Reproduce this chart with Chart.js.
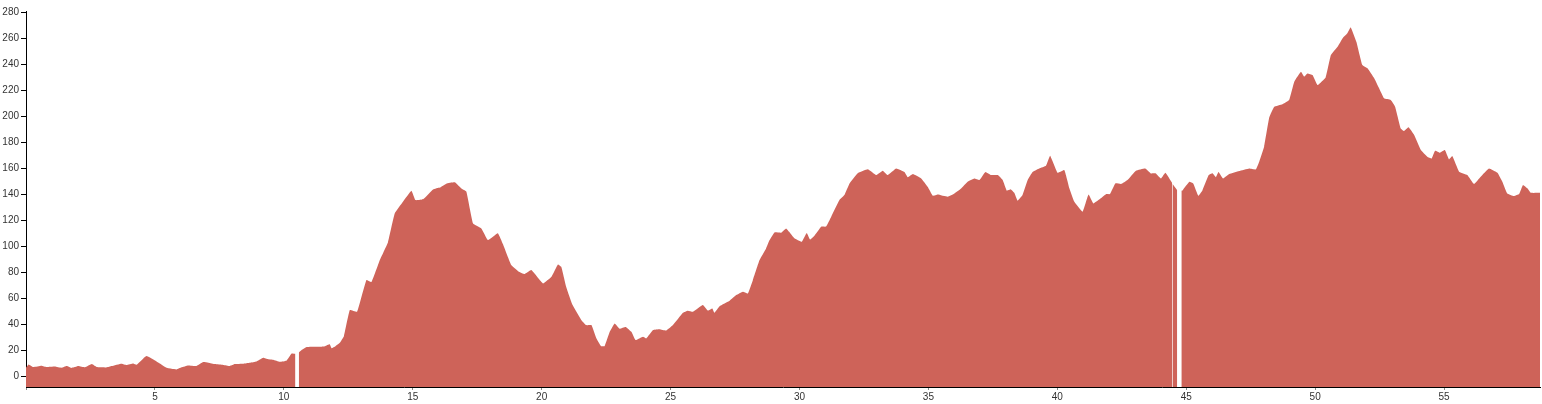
<!DOCTYPE html>
<html>
<head>
<meta charset="utf-8">
<script src="https://cdn.jsdelivr.net/npm/chart.js@4/dist/chart.umd.min.js"></script>
<style>
html,body{margin:0;padding:0;background:#fff;}
#wrap{width:1542px;height:404px;position:relative;}
</style>
</head>
<body>
<div id="wrap"><canvas id="c" width="1542" height="404"></canvas></div>
<script>
// distance along the route (km)
const distanceKm = [
0,0.1,0.28,0.6,0.8,1.12,1.38,1.58,1.77,2.03,2.29,2.55,2.74,3.13,3.32,3.71,3.9,4.16,4.29,4.55,4.68,4.94,5.19,5.45,5.65,5.84,6.03,6.29,6.61,6.87,7.07,7.33,7.65,7.91,8.1,8.42,8.68,8.94,9.2,9.39,9.59,9.84,10.1,10.3,10.45,10.5,10.58,10.69,10.88,11.07,11.4,11.6,11.78,11.85,12.0,12.17,12.33,12.56,12.84,13.2,13.4,13.72,14.04,14.3,14.62,14.95,15.1,15.4,15.79,16.05,16.3,16.63,16.9,17.08,17.34,17.66,17.92,18.3,18.5,18.82,19.1,19.34,19.6,20.05,20.38,20.63,20.76,20.95,21.2,21.54,21.73,21.93,22.12,22.3,22.44,22.64,22.83,23.02,23.26,23.48,23.64,23.93,24.06,24.32,24.57,24.83,25.09,25.48,25.67,25.87,26.25,26.45,26.62,26.7,26.9,27.29,27.55,27.8,28.0,28.19,28.45,28.7,28.84,29.03,29.29,29.48,29.6,29.8,30.09,30.28,30.41,30.58,30.84,31.03,31.23,31.55,31.74,31.94,32.26,32.65,32.97,33.23,33.42,33.75,34.07,34.2,34.4,34.72,34.97,35.17,35.36,35.75,36.01,36.27,36.52,36.78,36.98,37.21,37.43,37.69,37.88,38.04,38.2,38.33,38.46,38.65,38.85,39.04,39.3,39.56,39.72,40.01,40.27,40.47,40.66,40.98,41.21,41.4,41.69,41.9,42.04,42.25,42.47,42.72,43.05,43.41,43.63,43.82,44.02,44.19,44.455,44.46,44.465,44.65,44.73,44.81,44.86,45.12,45.27,45.47,45.63,45.87,46.02,46.15,46.25,46.43,46.67,47.05,47.44,47.7,47.83,48.02,48.22,48.41,48.73,48.99,49.19,49.45,49.57,49.7,49.9,50.09,50.41,50.61,50.87,51.06,51.25,51.38,51.6,51.83,52.03,52.29,52.48,52.67,52.93,53.1,53.32,53.45,53.62,53.84,54.1,54.35,54.52,54.65,54.84,55.03,55.19,55.32,55.58,55.9,56.16,56.42,56.74,57.07,57.26,57.45,57.71,57.91,58.06,58.23,58.36,58.72
];
// elevation (m); null = missing sample (gap in the profile)
const elevationM = [
6.5,9,7,8,7,7.4,6.4,7.7,6.2,7.7,6.7,9.2,7,6.7,7.7,9.5,8.5,9.7,8.7,13.6,15.4,12.8,9.7,6.4,5.6,5.1,6.7,8.2,7.7,10.8,10.3,9.2,8.5,7.7,9.2,9.5,10.3,11.3,14.1,13,12.6,11,11.8,17.4,17.2,null,18,20,22.3,22.6,22.5,23,24.4,21.5,23,25.6,30.7,50.8,49.5,73.8,72.3,89,103,125,134,142.5,135.4,136,143.6,145,148,149,144,141.8,117.4,113.6,104.6,109.8,101.3,85.4,80.5,78.5,81.5,71.3,76.4,85.9,84,68.7,54.6,43,39.2,39.2,29,23,23,34,40.5,36.5,37.8,34,27.7,30.3,29,35.4,36,35,39.2,48.7,50.3,49.5,54.6,50.3,52,48.7,53.8,58,62.3,64.9,63.6,73.8,89.2,98,104.6,110.5,110.3,113.6,111,106,103.3,110,105,108,114.9,115,122.6,135.4,139.2,148.2,156,159,154.6,158,154.6,159.7,157,153,155.4,152,145.6,138.7,139.7,138,140.5,144.3,149.5,152,150.8,157,154.6,154.6,150.8,142.6,143.6,141,134.9,139.2,150.8,157,159.7,161.8,169.5,156.4,158.5,144.3,134,126.4,139.7,132.8,136.7,140,140,148.2,147.7,150.8,158,159.7,155.9,155.9,152,156.4,148.5,null,148,143,null,142.5,143,149.5,148.2,138.7,143,154.6,156,153,157,152,155.4,157.7,159.7,159,164.9,176.4,199,207,209,212.3,226.4,234,230.3,232.8,231.5,223.8,229.9,246.9,253.3,259.7,263.6,268.2,257,239.2,236.7,229,221.3,213.6,212.3,207.2,190.5,188.5,191.3,185.4,173.8,168.7,167.4,173.3,171.8,173.8,166.6,169.2,157.2,154.6,147.7,153.3,159.7,156.4,149.5,140.5,138.5,140,147,144.4,141,141
];
const xTickStep = 5;
const yTickStep = 20;

const points = distanceKm.map((d, i) => ({x: d, y: elevationM[i]}));

new Chart(document.getElementById('c'), {
  type: 'line',
  data: {
    datasets: [{
      data: points,
      fill: 'start',
      backgroundColor: 'rgb(206,99,89)',
      borderWidth: 0,
      borderColor: 'rgba(0,0,0,0)',
      pointRadius: 0,
      tension: 0.1,
      spanGaps: false
    }]
  },
  options: {
    responsive: false,
    animation: false,
    layout: {padding: {top: 11, right: 2, left: 0, bottom: 0}},
    plugins: {legend: {display: false}, tooltip: {enabled: false}},
    scales: {
      x: {
        type: 'linear',
        min: 0,
        max: 58.72,
        afterFit: s => { s.height = 17; },
        border: {display: true, color: '#000', width: 1},
        grid: {drawOnChartArea: false, tickLength: 3, color: '#888'},
        ticks: {
          stepSize: xTickStep,
          includeBounds: false,
          maxRotation: 0,
          padding: 1,
          color: '#333',
          font: {family: 'Liberation Sans, Arial, sans-serif', size: 10},
          callback: v => v === 0 ? '' : v
        }
      },
      y: {
        min: -8.4,
        max: 280.8,
        afterFit: s => { s.width = 26; },
        border: {display: true, color: '#000', width: 1},
        grid: {drawOnChartArea: false, tickLength: 5, color: '#000'},
        ticks: {
          stepSize: yTickStep,
          includeBounds: false,
          padding: 2,
          color: '#333',
          font: {family: 'Liberation Sans, Arial, sans-serif', size: 10}
        }
      }
    }
  }
});
</script>
</body>
</html>
